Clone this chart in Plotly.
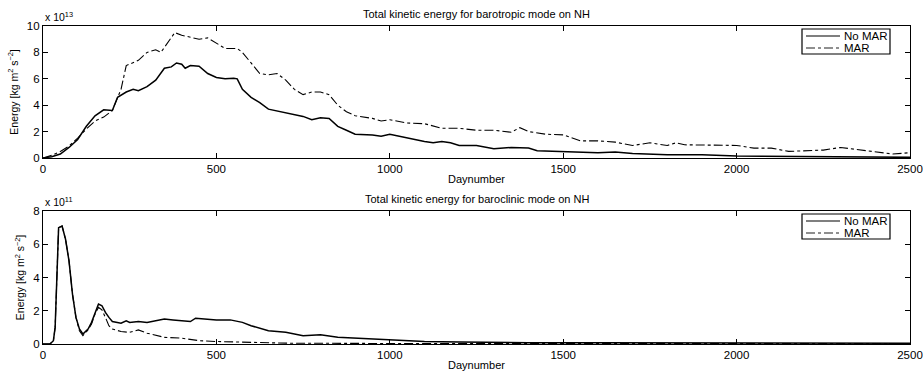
import plotly.graph_objects as go
from plotly.subplots import make_subplots

# Top panel: barotropic mode (units of 1e13)
bt_day_nomar = [0, 25, 50, 75, 100, 125, 150, 175, 200, 215, 240, 260, 275, 300, 325, 350, 370, 385, 400, 410, 425, 450, 475, 500, 525, 550, 560, 575, 600, 625, 650, 675, 700, 725, 750, 775, 800, 825, 850, 875, 900, 950, 975, 1000, 1025, 1050, 1100, 1125, 1150, 1175, 1200, 1250, 1300, 1350, 1400, 1425, 1500, 1600, 1650, 1700, 1800, 1900, 2000, 2100, 2200, 2300, 2400, 2500]
bt_nomar = [0, 0.1, 0.3, 0.8, 1.4, 2.4, 3.2, 3.65, 3.6, 4.6, 5.0, 5.2, 5.1, 5.4, 5.9, 6.8, 6.9, 7.2, 7.1, 6.8, 7.0, 6.95, 6.4, 6.1, 6.0, 6.05, 6.0, 5.2, 4.6, 4.2, 3.7, 3.55, 3.45, 3.25, 3.15, 2.9, 3.05, 3.0, 2.4, 2.1, 1.8, 1.75, 1.65, 1.8, 1.65, 1.55, 1.25, 1.15, 1.25, 1.15, 0.95, 0.95, 0.7, 0.8, 0.75, 0.55, 0.5, 0.4, 0.45, 0.35, 0.25, 0.25, 0.15, 0.12, 0.1, 0.1, 0.08, 0.05]
bt_day_mar = [0, 25, 50, 75, 100, 125, 150, 175, 200, 225, 240, 275, 300, 325, 340, 360, 380, 400, 450, 475, 500, 525, 560, 575, 600, 625, 650, 675, 700, 725, 750, 775, 800, 825, 850, 875, 900, 950, 975, 1000, 1050, 1100, 1150, 1200, 1250, 1300, 1350, 1375, 1400, 1450, 1500, 1550, 1600, 1650, 1700, 1750, 1800, 1825, 1850, 1900, 1950, 2000, 2050, 2100, 2150, 2200, 2250, 2300, 2350, 2400, 2450, 2500]
bt_mar = [0, 0.2, 0.5, 0.9, 1.5, 2.2, 2.8, 3.1, 3.6, 5.2, 7.0, 7.4, 8.0, 8.2, 8.0, 8.8, 9.5, 9.3, 9.0, 9.1, 8.7, 8.3, 8.3, 8.0, 7.2, 6.4, 6.3, 6.4, 5.9, 5.2, 4.8, 5.0, 5.0, 4.8, 4.0, 3.5, 3.2, 3.0, 2.8, 2.9, 2.65, 2.6, 2.25, 2.25, 2.1, 2.1, 1.95, 2.3, 2.0, 1.8, 1.75, 1.3, 1.3, 1.2, 0.95, 1.15, 0.95, 1.15, 1.0, 1.0, 0.95, 0.95, 0.75, 0.75, 0.5, 0.55, 0.6, 0.8, 0.65, 0.45, 0.3, 0.4]

# Bottom panel: baroclinic mode (units of 1e11)
bc_day_nomar = [0, 20, 30, 35, 40, 45, 55, 65, 75, 85, 95, 105, 115, 130, 140, 150, 160, 170, 180, 190, 200, 225, 240, 250, 275, 300, 325, 350, 375, 400, 425, 440, 475, 500, 540, 575, 600, 625, 650, 675, 700, 750, 800, 850, 900, 1000, 1100, 1200, 1300, 1400, 1600, 1800, 2000, 2200, 2500]
bc_nomar = [0, 0, 0.2, 1.0, 4.0, 7.0, 7.1, 6.3, 5.0, 3.0, 1.6, 0.9, 0.6, 0.9, 1.3, 1.9, 2.4, 2.3, 1.9, 1.6, 1.35, 1.25, 1.4, 1.3, 1.35, 1.3, 1.4, 1.5, 1.45, 1.4, 1.35, 1.55, 1.5, 1.45, 1.45, 1.3, 1.1, 0.95, 0.8, 0.75, 0.7, 0.5, 0.55, 0.4, 0.35, 0.25, 0.15, 0.12, 0.12, 0.08, 0.07, 0.06, 0.05, 0.05, 0.05]
bc_day_mar = [0, 20, 30, 35, 40, 45, 55, 65, 75, 85, 95, 105, 115, 130, 140, 150, 160, 170, 180, 190, 200, 225, 250, 275, 300, 350, 400, 450, 500, 600, 700, 1000, 1500, 2000, 2500]
bc_mar = [0, 0, 0.2, 1.0, 4.0, 7.0, 7.1, 6.3, 5.0, 3.0, 1.6, 0.8, 0.5, 0.85, 1.2, 1.8, 2.2, 2.05, 1.6, 1.1, 0.9, 0.75, 0.7, 0.85, 0.65, 0.4, 0.35, 0.2, 0.15, 0.08, 0.05, 0.03, 0.03, 0.03, 0.03]

titles = ["Total kinetic energy for barotropic mode on NH",
          "Total kinetic energy for baroclinic mode on NH"]
exponents = ["x 10<sup>13</sup>", "x 10<sup>11</sup>"]
series_names = ["No MAR", "MAR"]
x_ticks = [0, 500, 1000, 1500, 2000, 2500]

FONT = "Liberation Sans, Arial, sans-serif"
W, H = 923, 373
LEFT, RIGHT = 43, 910
PANELS = [(26, 158), (211, 344)]
ML = LEFT
MR = W - RIGHT
MT = PANELS[0][0]
MB = H - PANELS[1][1]
PLOT_W = RIGHT - LEFT
plot_h = PANELS[1][1] - PANELS[0][0]

fig = make_subplots(rows=2, cols=1)

solid = dict(color="black", width=1.5)
dashdot = dict(color="black", width=1.1, dash="dashdot")

fig.add_trace(go.Scatter(x=bt_day_nomar, y=bt_nomar, mode="lines", name=series_names[0], line=solid, showlegend=False), row=1, col=1)
fig.add_trace(go.Scatter(x=bt_day_mar, y=bt_mar, mode="lines", name=series_names[1], line=dashdot, showlegend=False), row=1, col=1)
fig.add_trace(go.Scatter(x=bc_day_nomar, y=bc_nomar, mode="lines", name=series_names[0], line=solid, showlegend=False), row=2, col=1)
fig.add_trace(go.Scatter(x=bc_day_mar, y=bc_mar, mode="lines", name=series_names[1], line=dashdot, showlegend=False), row=2, col=1)

def dom(p):
    t, b = p
    return [1 - (b - PANELS[0][0]) / plot_h, 1 - (t - PANELS[0][0]) / plot_h]

axis_common = dict(showline=True, linecolor="black", linewidth=1.2, mirror="ticks",
                   ticks="inside", ticklen=5, tickcolor="black", showgrid=False,
                   zeroline=False, automargin=False,
                   tickfont=dict(size=11.5, color="black", family=FONT))

fig.update_xaxes(range=[0, 2500], tickvals=x_ticks, **axis_common)
fig.update_xaxes(title=dict(text="Daynumber", font=dict(size=11, color="black", family=FONT), standoff=1))
fig.update_yaxes(**axis_common)
fig.update_yaxes(range=[0, 10], tickvals=[0, 2, 4, 6, 8, 10], domain=dom(PANELS[0]), row=1, col=1)
fig.update_yaxes(range=[0, 8], tickvals=[0, 2, 4, 6, 8], domain=dom(PANELS[1]), row=2, col=1)
fig.update_yaxes(title=dict(text="Energy [kg m<sup>2</sup> s<sup>−2</sup>]",
                            font=dict(size=10.5, color="black", family=FONT), standoff=6))

fig.update_layout(
    width=W, height=H,
    margin=dict(l=ML, r=MR, t=MT, b=MB),
    paper_bgcolor="white", plot_bgcolor="white",
    font=dict(family=FONT, color="black"),
    showlegend=False,
)

# titles, exponent labels and hand-drawn legends
for i, (xa, ya) in enumerate([("x", "y"), ("x2", "y2")]):
    fig.add_annotation(text=titles[i], xref=f"{xa} domain", yref=f"{ya} domain", x=0.5, y=1, yshift=12,
                       showarrow=False, font=dict(size=11, family=FONT, color="black"), yanchor="middle")
    fig.add_annotation(text=exponents[i], xref=f"{xa} domain", yref=f"{ya} domain", x=0, y=1, yshift=10,
                       xanchor="left", showarrow=False, font=dict(size=10.5, family=FONT, color="black"),
                       yanchor="middle")
    t, b = PANELS[i]
    ph = b - t
    fx = lambda px: (px - LEFT) / PLOT_W
    fy = lambda py: 1 - (py - t) / ph
    fig.add_shape(type="rect", xref=f"{xa} domain", yref=f"{ya} domain",
                  x0=fx(802), x1=fx(890), y0=fy(t + 3), y1=fy(t + 28),
                  line=dict(color="black", width=1.2), fillcolor="white", layer="above")
    for j, (nm, ln) in enumerate(zip(series_names, [solid, dashdot])):
        yy = fy(t + 10 + 12 * j)
        fig.add_shape(type="line", xref=f"{xa} domain", yref=f"{ya} domain",
                      x0=fx(806), x1=fx(840), y0=yy, y1=yy,
                      line=dict(color="black", width=ln["width"] * 0.8, dash=ln.get("dash", "solid")),
                      layer="above")
        fig.add_annotation(text=nm, xref=f"{xa} domain", yref=f"{ya} domain", x=fx(842), y=yy,
                           xanchor="left", yanchor="middle", showarrow=False,
                           font=dict(size=11.5, family=FONT, color="black"))

fig.write_html("out.html", config={"displayModeBar": False},
               post_script="document.body.style.margin='0';document.body.style.overflow='hidden';")
